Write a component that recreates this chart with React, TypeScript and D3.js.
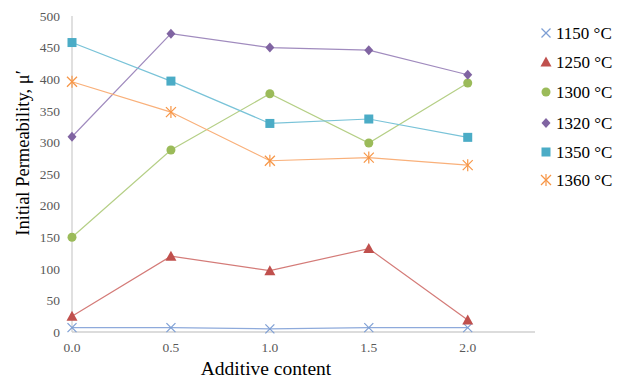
import React from "react";
import * as d3 from "d3";

// Additive content (x) and initial permeability per sintering temperature
const additive = [0.0, 0.5, 1.0, 1.5, 2.0];
const seriesNames = ["1150 °C", "1250 °C", "1300 °C", "1320 °C", "1350 °C", "1360 °C"];
const perm1150 = [7, 7, 5, 7, 7];
const perm1250 = [25, 120, 97, 132, 19];
const perm1300 = [150, 288, 377, 299, 394];
const perm1320 = [309, 472, 450, 446, 407];
const perm1350 = [458, 397, 330, 337, 308];
const perm1360 = [396, 348, 271, 276, 264];
const yTicks = [0, 50, 100, 150, 200, 250, 300, 350, 400, 450, 500];
const xTicks = [0.0, 0.5, 1.0, 1.5, 2.0];

const colors = ["#7E9FD4", "#C0504D", "#9BBB59", "#8064A2", "#4BACC6", "#F79646"];
const lineColors = ["#8EAADB", "#D47B78", "#B5CF86", "#A08BBE", "#79C3D8", "#F9B07A"];
const markers = ["x", "triangle", "circle", "diamond", "square", "star"];
const values = [perm1150, perm1250, perm1300, perm1320, perm1350, perm1360];

const W = 620;
const H = 382;
const x = d3.scaleLinear().domain([0, 2.34]).range([72, 535]);
const y = d3.scaleLinear().domain([0, 500]).range([332, 16]);

const font = "'Liberation Serif', 'Times New Roman', serif";

function Marker({ kind, cx, cy, color }: { kind: string; cx: number; cy: number; color: string }) {
  switch (kind) {
    case "x":
      return (
        <g stroke={color} strokeWidth={1.2}>
          <line x1={cx - 4.5} y1={cy - 4.5} x2={cx + 4.5} y2={cy + 4.5} />
          <line x1={cx - 4.5} y1={cy + 4.5} x2={cx + 4.5} y2={cy - 4.5} />
        </g>
      );
    case "triangle":
      return <path d={`M${cx},${cy - 5.5}L${cx + 5.5},${cy + 4.5}L${cx - 5.5},${cy + 4.5}Z`} fill={color} />;
    case "circle":
      return <circle cx={cx} cy={cy} r={4.5} fill={color} />;
    case "diamond":
      return <path d={`M${cx},${cy - 5}L${cx + 4.5},${cy}L${cx},${cy + 5}L${cx - 4.5},${cy}Z`} fill={color} />;
    case "square":
      return <rect x={cx - 4.5} y={cy - 4.5} width={9} height={9} fill={color} />;
    case "star":
      return (
        <g stroke={color} strokeWidth={1.2}>
          <line x1={cx - 5} y1={cy - 5} x2={cx + 5} y2={cy + 5} />
          <line x1={cx - 5} y1={cy + 5} x2={cx + 5} y2={cy - 5} />
          <line x1={cx} y1={cy - 6} x2={cx} y2={cy + 6} />
        </g>
      );
    default:
      return null;
  }
}

export default function App() {
  const line = d3
    .line<number>()
    .x((_, i) => x(additive[i]))
    .y((d) => y(d));

  const legendY = [33, 62, 92, 123, 152, 180];

  return (
    <svg
      width={W}
      height={H}
      style={{ position: "absolute", left: 0, top: 0, background: "#fff" }}
      fontFamily={font}
    >
      {/* axes */}
      <line x1={x(0)} y1={y(0)} x2={x(2.34)} y2={y(0)} stroke="#D0D0D0" strokeWidth={1.3} />
      <line x1={x(0)} y1={y(0)} x2={x(0)} y2={y(500)} stroke="#D0D0D0" strokeWidth={1.3} />

      {yTicks.map((t) => (
        <text key={t} x={60} y={y(t)} dy="0.35em" textAnchor="end" fontSize={13.5} fill="#595959">
          {t}
        </text>
      ))}
      {xTicks.map((t) => (
        <text key={t} x={x(t)} y={347} dy="0.35em" textAnchor="middle" fontSize={13.5} fill="#595959">
          {t.toFixed(1)}
        </text>
      ))}

      <text x={266} y={375} textAnchor="middle" fontSize={19.5} fill="#000">
        Additive content
      </text>
      <text
        transform={`translate(29,153) rotate(-90)`}
        textAnchor="middle"
        fontSize={18.5}
        fill="#000"
      >
        Initial Permeability, μ′
      </text>

      {values.map((vals, si) => (
        <g key={si}>
          <path d={line(vals) || ""} fill="none" stroke={lineColors[si]} strokeWidth={1.2} />
          {vals.map((v, i) => (
            <Marker key={i} kind={markers[si]} cx={x(additive[i])} cy={y(v)} color={colors[si]} />
          ))}
        </g>
      ))}

      {/* legend */}
      {seriesNames.map((name, si) => (
        <g key={name}>
          <Marker kind={markers[si]} cx={546} cy={legendY[si]} color={colors[si]} />
          <text x={556} y={legendY[si]} dy="0.35em" fontSize={17} fill="#000">
            {name}
          </text>
        </g>
      ))}
    </svg>
  );
}
